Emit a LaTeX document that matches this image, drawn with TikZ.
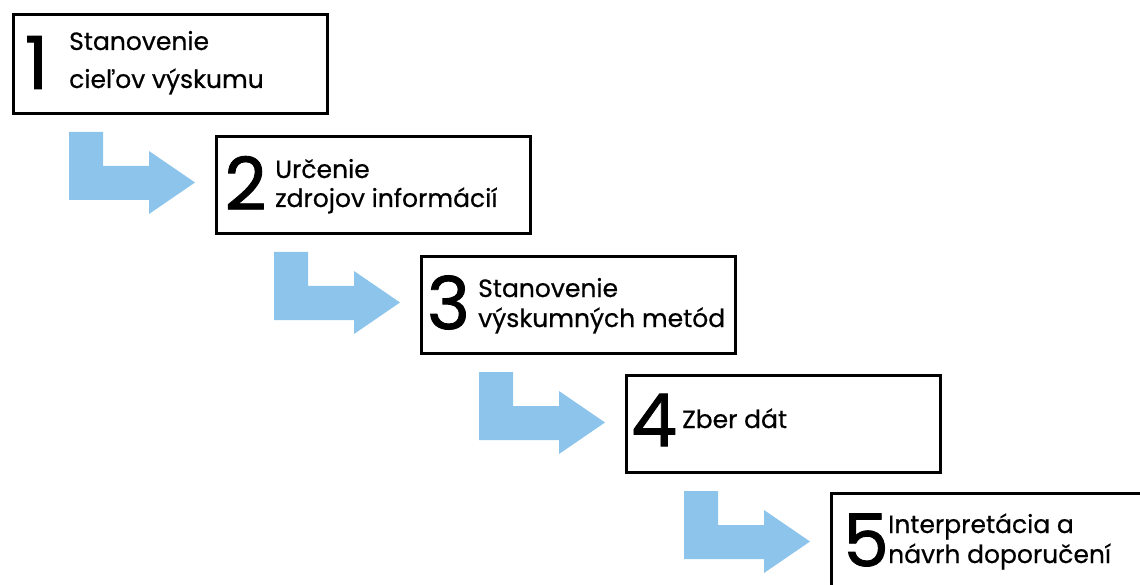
\documentclass[tikz,border=0pt]{standalone}
\usepackage{fontspec}
\setmainfont{Poppins}
\newfontfamily\labelfont[FakeBold=0.6]{Poppins}
\newfontfamily\digitfont[FakeBold=1.2]{Poppins}
\definecolor{stepblue}{RGB}{140,196,235}
\tikzset{
  stepbox/.style={draw=black, line width=3pt, fill=white, minimum width=314pt,
    minimum height=97pt, inner sep=0pt, anchor=north west},
  stepnum/.style={inner sep=0pt, anchor=center, font=\digitfont\fontsize{73}{73}\selectfont},
  steptext/.style={inner sep=0pt, anchor=base west, align=left},
  turnarrow/.style={fill=stepblue, draw=none}
}
% bent arrow from one step to the next, origin = top-left of the shaft
\newcommand{\turnarrow}[2]{%
  \fill[turnarrow] (#1+0,#2+0) -- (#1+34,#2+0) -- (#1+34,#2+34) -- (#1+80,#2+34)
    -- (#1+80,#2+19) -- (#1+126,#2+50.5) -- (#1+80,#2+82) -- (#1+80,#2+68)
    -- (#1+0,#2+68) -- cycle;}
\begin{document}
\begin{tikzpicture}[x=1pt,y=-1pt]
\useasboundingbox (0,0) rectangle (1140,585);

\turnarrow{69}{132}
\turnarrow{274}{252}
\turnarrow{479}{372}
\turnarrow{684}{491}

\begin{scope}
\clip (0,0) rectangle (1140,585);
\node[stepbox, minimum height=99pt] (b1) at (12,13) {};
\node[stepbox] (b2) at (215,135) {};
\node[stepbox] (b3) at (420,255) {};
\node[stepbox] (b4) at (625,374) {};
\node[stepbox] (b5) at (830,492) {};
\end{scope}

\node[stepnum] (n1) at (36.5,62.5) {1};
\node[stepnum] (n2) at (245.5,183) {2};
\node[stepnum] (n3) at (448.5,302.5) {3};
\node[stepnum] (n4) at (654,420) {4};
\node[stepnum] (n5) at (866,540) {5};

\node[steptext, font=\labelfont\fontsize{25}{38}\selectfont] (t1) at (69,88) {Stanovenie\\cieľov výskumu};
\node[steptext, font=\labelfont\fontsize{25}{29}\selectfont] (t2) at (275,207) {Určenie\\zdrojov informácií};
\node[steptext, font=\labelfont\fontsize{25}{30}\selectfont] (t3) at (478,327) {Stanovenie\\výskumných metód};
\node[steptext, font=\labelfont\fontsize{25}{30}\selectfont] (t4) at (682,428) {Zber dát};
\node[steptext, font=\labelfont\fontsize{25}{30}\selectfont] (t5) at (888,563) {Interpretácia a\\návrh doporučení};
\end{tikzpicture}
\end{document}
